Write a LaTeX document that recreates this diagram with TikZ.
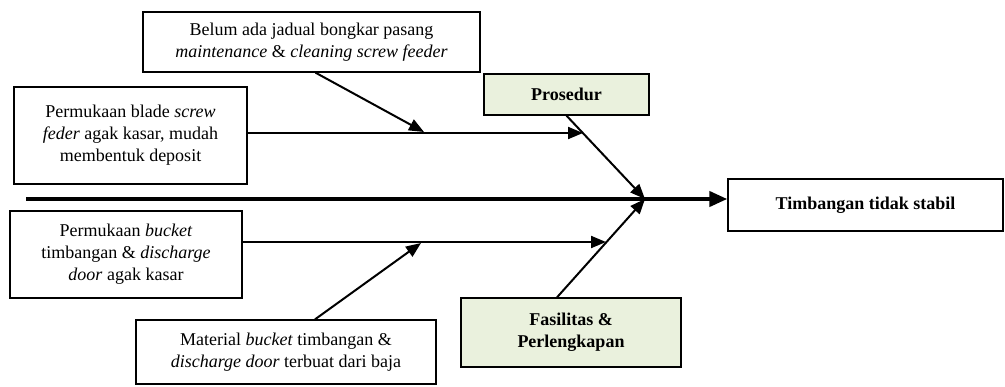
\documentclass[tikz,border=0pt]{standalone}
\usepackage{fontspec}
\setmainfont{Liberation Serif}
\usetikzlibrary{arrows.meta}
\definecolor{groupfill}{RGB}{234,241,221}
\tikzset{
  cause/.style={draw, line width=1.3pt, align=center, inner sep=0pt, font=\fontsize{18}{22}\selectfont},
  group/.style={cause, fill=groupfill, font=\fontsize{18}{22}\selectfont\bfseries},
  bone/.style={line width=2pt, -{Triangle[length=15pt,width=12pt]}},
  spine/.style={line width=4pt, -{Triangle[length=18pt,width=15pt]}}
}
\begin{document}
\begin{tikzpicture}[x=1pt,y=1pt,yscale=-1]
\useasboundingbox (0,0) rectangle (1005,386);

% Cause boxes
\node[cause, minimum width=337pt, minimum height=60pt] (jadual) at (311.5,42) {Belum ada jadual bongkar pasang\\ \textit{maintenance} \& \textit{cleaning screw feeder}};
\node[cause, minimum width=233pt, minimum height=97pt] (blade) at (130.5,135.5) {Permukaan blade \textit{screw}\\ \textit{feder} agak kasar, mudah\\ membentuk deposit};
\node[cause, minimum width=232pt, minimum height=87pt] (bucket) at (126,254.5) {Permukaan \textit{bucket}\\ timbangan \& \textit{discharge}\\ \textit{door} agak kasar};
\node[cause, minimum width=300pt, minimum height=64pt] (baja) at (286,352) {Material \textit{bucket} timbangan \&\\ \textit{discharge door} terbuat dari baja};

% Category boxes
\node[group, minimum width=165pt, minimum height=41pt] (prosedur) at (566.5,94.5) {Prosedur};
\node[group, minimum width=220pt, minimum height=69pt] (fasilitas) at (571,332.5) {Fasilitas \&\\ Perlengkapan};

% Effect box
\node[cause, font=\fontsize{18}{22}\selectfont\bfseries, minimum width=275pt, minimum height=52pt] (timbangan) at (865.5,205) {Timbangan tidak stabil};

% Spine and joints
\coordinate (tail) at (26,199);
\coordinate (hub) at (645,199);
\coordinate (joinA) at (583,133);
\coordinate (joinB) at (606,242);
\coordinate (tipA) at (424,132);
\coordinate (tipB) at (421,243);

%Straight Lines
\draw[spine] (tail) -- (tail -| timbangan.west);
\draw[bone] (prosedur.south) -- (hub);
\draw[bone] ([xshift=-14pt]fasilitas.north) -- (hub);
\draw[bone] (blade.east |- joinA) -- (joinA);
\draw[bone] (bucket.east |- joinB) -- (joinB);
\draw[bone] ([xshift=4pt]jadual.south) -- (tipA);
\draw[bone] ([xshift=29pt]baja.north) -- (tipB);

\end{tikzpicture}
\end{document}
